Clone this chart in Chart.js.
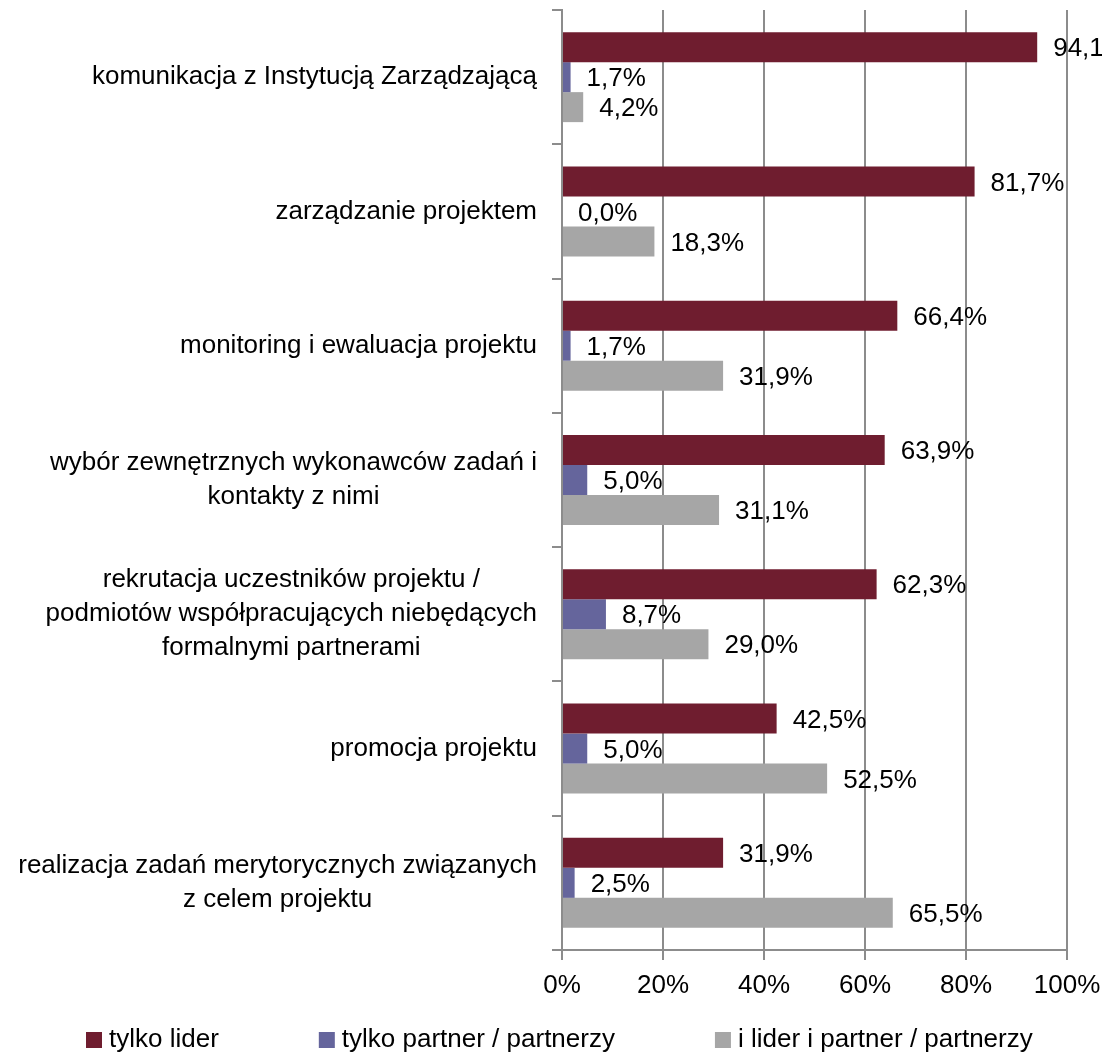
<!DOCTYPE html>
<html>
<head>
<meta charset="utf-8">
<script src="https://cdn.jsdelivr.net/npm/chart.js@4/dist/chart.umd.min.js"></script>
<style>
  html, body { margin: 0; padding: 0; background: #fff; }
  #wrap { width: 1102px; height: 1054px; }
</style>
</head>
<body>
<div id="wrap"><canvas id="chart"></canvas></div>
<script>
var categories = [
    ['komunikacja z Instytucją Zarządzającą'],
    ['zarządzanie projektem'],
    ['monitoring i ewaluacja projektu'],
    ['wybór zewnętrznych wykonawców zadań i', 'kontakty z nimi'],
    ['rekrutacja uczestników projektu /', 'podmiotów współpracujących niebędących', 'formalnymi partnerami'],
    ['promocja projektu'],
    ['realizacja zadań merytorycznych związanych', 'z celem projektu']
];
var seriesNames = ['tylko lider', 'tylko partner / partnerzy', 'i lider i partner / partnerzy'];
var onlyLeader  = [94.1, 81.7, 66.4, 63.9, 62.3, 42.5, 31.9];
var onlyPartner = [1.7, 0.0, 1.7, 5.0, 8.7, 5.0, 2.5];
var both        = [4.2, 18.3, 31.9, 31.1, 29.0, 52.5, 65.5];
var xTicks = [0, 20, 40, 60, 80, 100];

var FONT = '"Liberation Sans", Arial, sans-serif';
var FSIZE = 26;
var colors = ['#6F1D2F', '#65659C', '#A6A6A6'];
var gridColor = '#8C8C8C';

// category labels: blocks right-aligned, lines centered inside each block
var categoryLabels = {
    id: 'categoryLabels',
    afterDraw: function (chart) {
        var ctx = chart.ctx, y = chart.scales.y;
        var rightEdge = y.right - 25;
        var lineH = 34;
        ctx.save();
        ctx.font = FSIZE + 'px ' + FONT;
        ctx.fillStyle = '#000';
        ctx.textAlign = 'center';
        ctx.textBaseline = 'middle';
        categories.forEach(function (lines, i) {
            var widest = 0;
            lines.forEach(function (l) { widest = Math.max(widest, ctx.measureText(l).width); });
            var cy = y.getPixelForValue(i);
            var top = cy - (lines.length - 1) * lineH / 2;
            lines.forEach(function (l, k) {
                ctx.fillText(l, rightEdge - widest / 2, top + k * lineH);
            });
        });
        ctx.restore();
    }
};

// value labels at the end of each bar
var valueLabels = {
    id: 'valueLabels',
    afterDatasetsDraw: function (chart) {
        var ctx = chart.ctx;
        ctx.save();
        ctx.font = FSIZE + 'px ' + FONT;
        ctx.fillStyle = '#000';
        ctx.textAlign = 'left';
        ctx.textBaseline = 'middle';
        chart.data.datasets.forEach(function (ds, di) {
            chart.getDatasetMeta(di).data.forEach(function (el, i) {
                var txt = ds.data[i].toFixed(1).replace('.', ',') + '%';
                ctx.fillText(txt, el.x + 16, el.y + 2);
            });
        });
        ctx.restore();
    }
};

// legend row at the bottom, spaced like the original
var bottomLegend = {
    id: 'bottomLegend',
    afterDraw: function (chart) {
        var ctx = chart.ctx;
        var box = 16, gap = 7, itemGap = 100;
        var cy = 1040;
        ctx.save();
        ctx.font = FSIZE + 'px ' + FONT;
        ctx.textAlign = 'left';
        ctx.textBaseline = 'middle';
        var x = 86;
        chart.data.datasets.forEach(function (ds) {
            ctx.fillStyle = ds.backgroundColor;
            ctx.fillRect(x, cy - box / 2, box, box);
            ctx.fillStyle = '#000';
            ctx.fillText(ds.label, x + box + gap, cy);
            x += box + gap + ctx.measureText(ds.label).width + itemGap;
        });
        ctx.restore();
    }
};

new Chart(document.getElementById('chart'), {
    type: 'bar',
    data: {
        labels: categories,
        datasets: [
            { label: seriesNames[0], data: onlyLeader, backgroundColor: colors[0] },
            { label: seriesNames[1], data: onlyPartner, backgroundColor: colors[1] },
            { label: seriesNames[2], data: both, backgroundColor: colors[2] }
        ]
    },
    options: {
        indexAxis: 'y',
        responsive: true,
        maintainAspectRatio: false,
        animation: false,
        events: [],
        barPercentage: 1,
        categoryPercentage: 0.67,
        layout: { padding: { top: 10, right: 35, left: 0, bottom: 0 } },
        plugins: {
            tooltip: { enabled: false },
            legend: { display: false }
        },
        scales: {
            x: {
                min: 0,
                max: 100,
                afterBuildTicks: function (scale) {
                    scale.ticks = xTicks.map(function (v) { return { value: v }; });
                },
                ticks: {
                    font: { family: FONT, size: FSIZE },
                    color: '#000',
                    padding: 10,
                    callback: function (v) { return v + '%'; }
                },
                grid: { color: gridColor, lineWidth: 2, tickLength: 10 },
                border: { display: true, color: gridColor, width: 2 },
                afterFit: function (scale) {
                    scale.height = scale.chart.height - 950;
                    scale.paddingLeft = 0;
                    scale.paddingRight = 0;
                }
            },
            y: {
                ticks: { display: false },
                grid: { drawOnChartArea: false, color: gridColor, lineWidth: 2, tickLength: 10, offset: true },
                border: { color: gridColor, width: 2 },
                afterFit: function (scale) { scale.width = 562; }
            }
        }
    },
    plugins: [categoryLabels, valueLabels, bottomLegend]
});
</script>
</body>
</html>
